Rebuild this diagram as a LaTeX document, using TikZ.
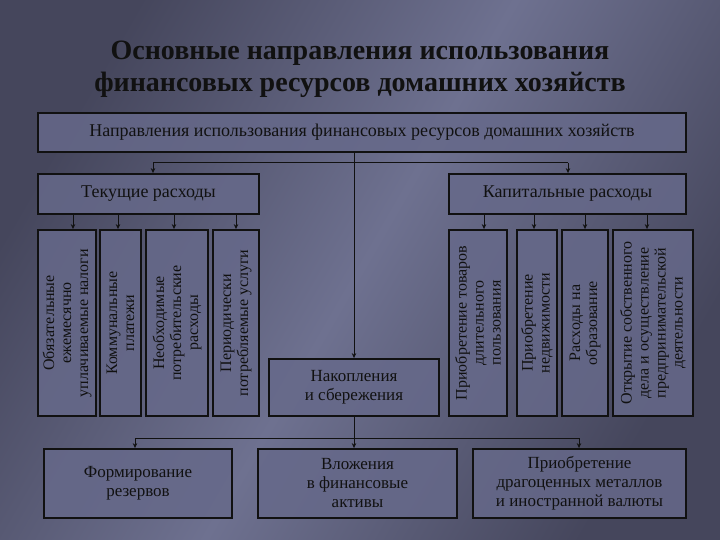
\documentclass[tikz,border=0pt]{standalone}
\usepackage{fontspec}
\setmainfont{Liberation Serif}
\usetikzlibrary{arrows.meta}
\definecolor{bgA}{HTML}{45465C}
\definecolor{bgB}{HTML}{6E7190}
\definecolor{boxc}{HTML}{66698A}
\definecolor{ink}{HTML}{111111}
\begin{document}
\begin{tikzpicture}[x=1pt,y=-1pt,
  box/.style={draw=ink,line width=1.8pt,fill=boxc,fill opacity=0.85,text opacity=1,text=ink,inner sep=0pt,font=\fontsize{17}{19}\selectfont,align=center},
  vtxt/.style={rotate=90,text=ink,align=center,font=\fontsize{16}{17}\selectfont},
  arr/.style={draw=ink,line width=1pt,-{Stealth[length=5pt,width=4.5pt]}},
  ln/.style={draw=ink,line width=1pt}]
\useasboundingbox (0,0) rectangle (720,540);
\shade[shading=axis,top color=bgA,bottom color=bgA,middle color=bgB,shading angle=60] (0,0) rectangle (720,540);
\node[font=\fontsize{28}{32}\selectfont\bfseries,text=ink,align=center] (title) at (360,69) {Основные направления использования\\финансовых ресурсов домашних хозяйств};
\newcommand\bx[6]{\node[box,minimum width=#4-#2,minimum height=#5-#3] (#1) at ({(#2+#4)/2},{(#3+#5)/2}) {#6};}
\bx{top}{38}{113}{686}{152}{\fontsize{18}{20}\selectfont Направления использования финансовых ресурсов домашних хозяйств}
\bx{cur}{38}{174}{259}{214}{\fontsize{18}{20}\selectfont Текущие расходы}
\bx{cap}{449}{174}{686}{214}{\fontsize{18}{20}\selectfont Капитальные расходы}
\bx{c1}{38}{230}{96}{416}{}
\bx{c2}{100}{230}{141}{416}{}
\bx{c3}{146}{230}{208}{416}{}
\bx{c4}{213}{230}{259}{416}{}
\bx{c5}{449}{230}{507}{416}{}
\bx{c6}{517}{230}{557}{416}{}
\bx{c7}{562}{230}{608}{416}{}
\bx{c8}{613}{230}{693}{416}{}
\bx{nak}{269}{359}{439}{416}{Накопления\\и сбережения}
\bx{form}{44}{449}{232}{518}{Формирование\\резервов}
\bx{vlo}{258}{449}{457}{518}{Вложения\\в финансовые\\активы}
\bx{pri}{473}{449}{686}{518}{Приобретение\\драгоценных металлов\\и иностранной валюты}
\node[vtxt] (t1) at (c1) {Обязательные\\ежемесячно\\уплачиваемые налоги};
\node[vtxt] (t2) at (c2) {Коммунальные\\платежи};
\node[vtxt] (t3) at (c3) {Необходимые\\потребительские\\расходы};
\node[vtxt] (t4) at (c4) {Периодически\\потребляемые услуги};
\node[vtxt] (t5) at (c5) {Приобретение товаров\\длительного\\пользования};
\node[vtxt] (t6) at (c6) {Приобретение\\недвижимости};
\node[vtxt] (t7) at (c7) {Расходы на\\образование};
\node[vtxt] (t8) at (c8) {Открытие собственного\\дела и осуществление\\предпринимательской\\деятельности};
\coordinate (h1) at (153,163);
\coordinate (h2) at (568,163);
\draw[arr] (top.south -| nak.north) -- (nak.north);
\draw[ln] (h1) -- (h2);
\draw[arr] (h1) -- (h1 |- cur.north);
\draw[arr] (h2) -- (h2 |- cap.north);
\foreach \x/\c in {73/c1,118/c2,174/c3,236/c4}{\draw[arr] (\x,214) -- (\c.north -| \x,0);}
\foreach \x/\c in {484/c5,534/c6,585/c7,647/c8}{\draw[arr] (\x,214) -- (\c.north -| \x,0);}
\coordinate (l1) at (135,438);
\coordinate (l2) at (579,438);
\draw[ln] (nak.south) -- (nak.south |- l1);
\draw[ln] (l1) -- (l2);
\draw[arr] (l1) -- (l1 |- form.north);
\draw[arr] (nak.south |- l1) -- (vlo.north -| nak.south);
\draw[arr] (l2) -- (l2 |- pri.north);
\end{tikzpicture}
\end{document}
